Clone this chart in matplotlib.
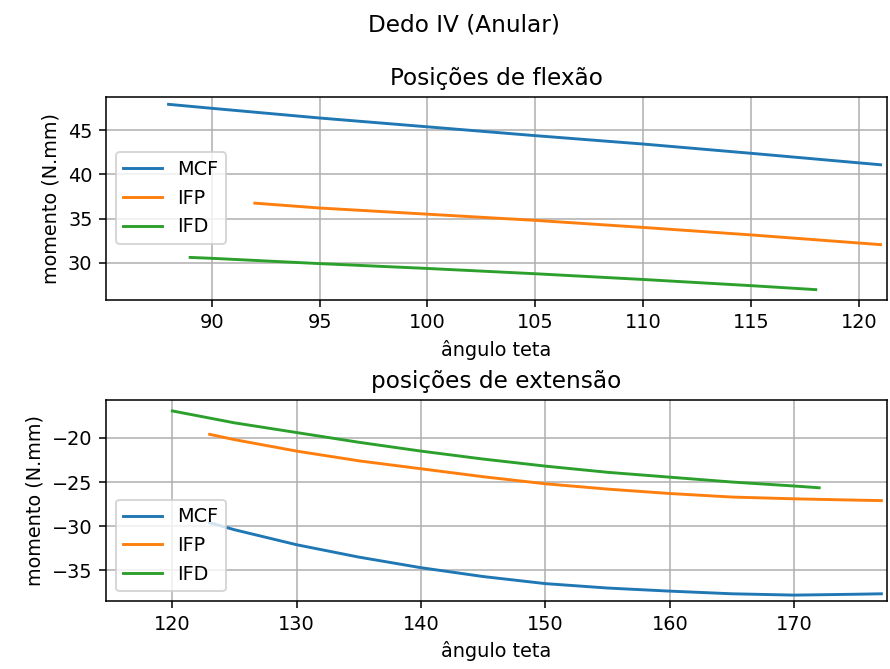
import matplotlib
matplotlib.use("Agg")
import matplotlib.pyplot as plt

# flexão: ângulo teta (graus) e momento (N.mm)
teta_mcf_flex = [88, 90, 95, 100, 105, 110, 115, 121]
mcf_flex = [47.95, 47.5, 46.4, 45.4, 44.4, 43.45, 42.4, 41.1]
teta_ifp_flex = [92, 95, 100, 105, 110, 115, 121]
ifp_flex = [36.75, 36.2, 35.5, 34.8, 34.0, 33.15, 32.05]
teta_ifd_flex = [89, 90, 95, 100, 105, 110, 115, 118]
ifd_flex = [30.6, 30.5, 29.9, 29.35, 28.75, 28.1, 27.4, 26.95]

# extensão
teta_mcf_ext = [123, 125, 130, 135, 140, 145, 150, 155, 160, 165, 170, 175, 177]
mcf_ext = [-29.6, -30.4, -32.1, -33.5, -34.7, -35.7, -36.5, -37.0, -37.35, -37.65, -37.8, -37.7, -37.65]
teta_ifp_ext = [123, 125, 130, 135, 140, 145, 150, 155, 160, 165, 170, 175, 177]
ifp_ext = [-19.6, -20.2, -21.5, -22.6, -23.5, -24.4, -25.2, -25.8, -26.3, -26.7, -26.9, -27.05, -27.1]
teta_ifd_ext = [120, 125, 130, 135, 140, 145, 150, 155, 160, 165, 170, 172]
ifd_ext = [-16.95, -18.3, -19.4, -20.5, -21.5, -22.4, -23.2, -23.9, -24.45, -25.0, -25.45, -25.65]

fig, (ax1, ax2) = plt.subplots(2, 1, figsize=(890 / 139, 669 / 139), dpi=139)
ax1.set_position([0.1191, 0.5523, 0.8775, 0.3027])
ax2.set_position([0.1191, 0.1016, 0.8775, 0.3012])
fig.suptitle("Dedo IV (Anular)", x=0.521)

ax1.plot(teta_mcf_flex, mcf_flex, label="MCF")
ax1.plot(teta_ifp_flex, ifp_flex, label="IFP")
ax1.plot(teta_ifd_flex, ifd_flex, label="IFD")
ax1.set_title("Posições de flexão")
ax1.set_xlabel("ângulo teta")
ax1.set_ylabel("momento (N.mm)")
ax1.set_xlim(85.1, 121.3)
ax1.set_ylim(25.83, 48.78)
ax1.grid(True)
ax1.legend(loc="center left")

ax2.plot(teta_mcf_ext, mcf_ext, label="MCF")
ax2.plot(teta_ifp_ext, ifp_ext, label="IFP")
ax2.plot(teta_ifd_ext, ifd_ext, label="IFD")
ax2.set_title("posições de extensão")
ax2.set_xlabel("ângulo teta")
ax2.set_ylabel("momento (N.mm)")
ax2.set_xlim(114.67, 177.45)
ax2.set_ylim(-38.47, -15.66)
ax2.grid(True)
ax2.legend(loc="lower left")

fig.savefig("out.png")
